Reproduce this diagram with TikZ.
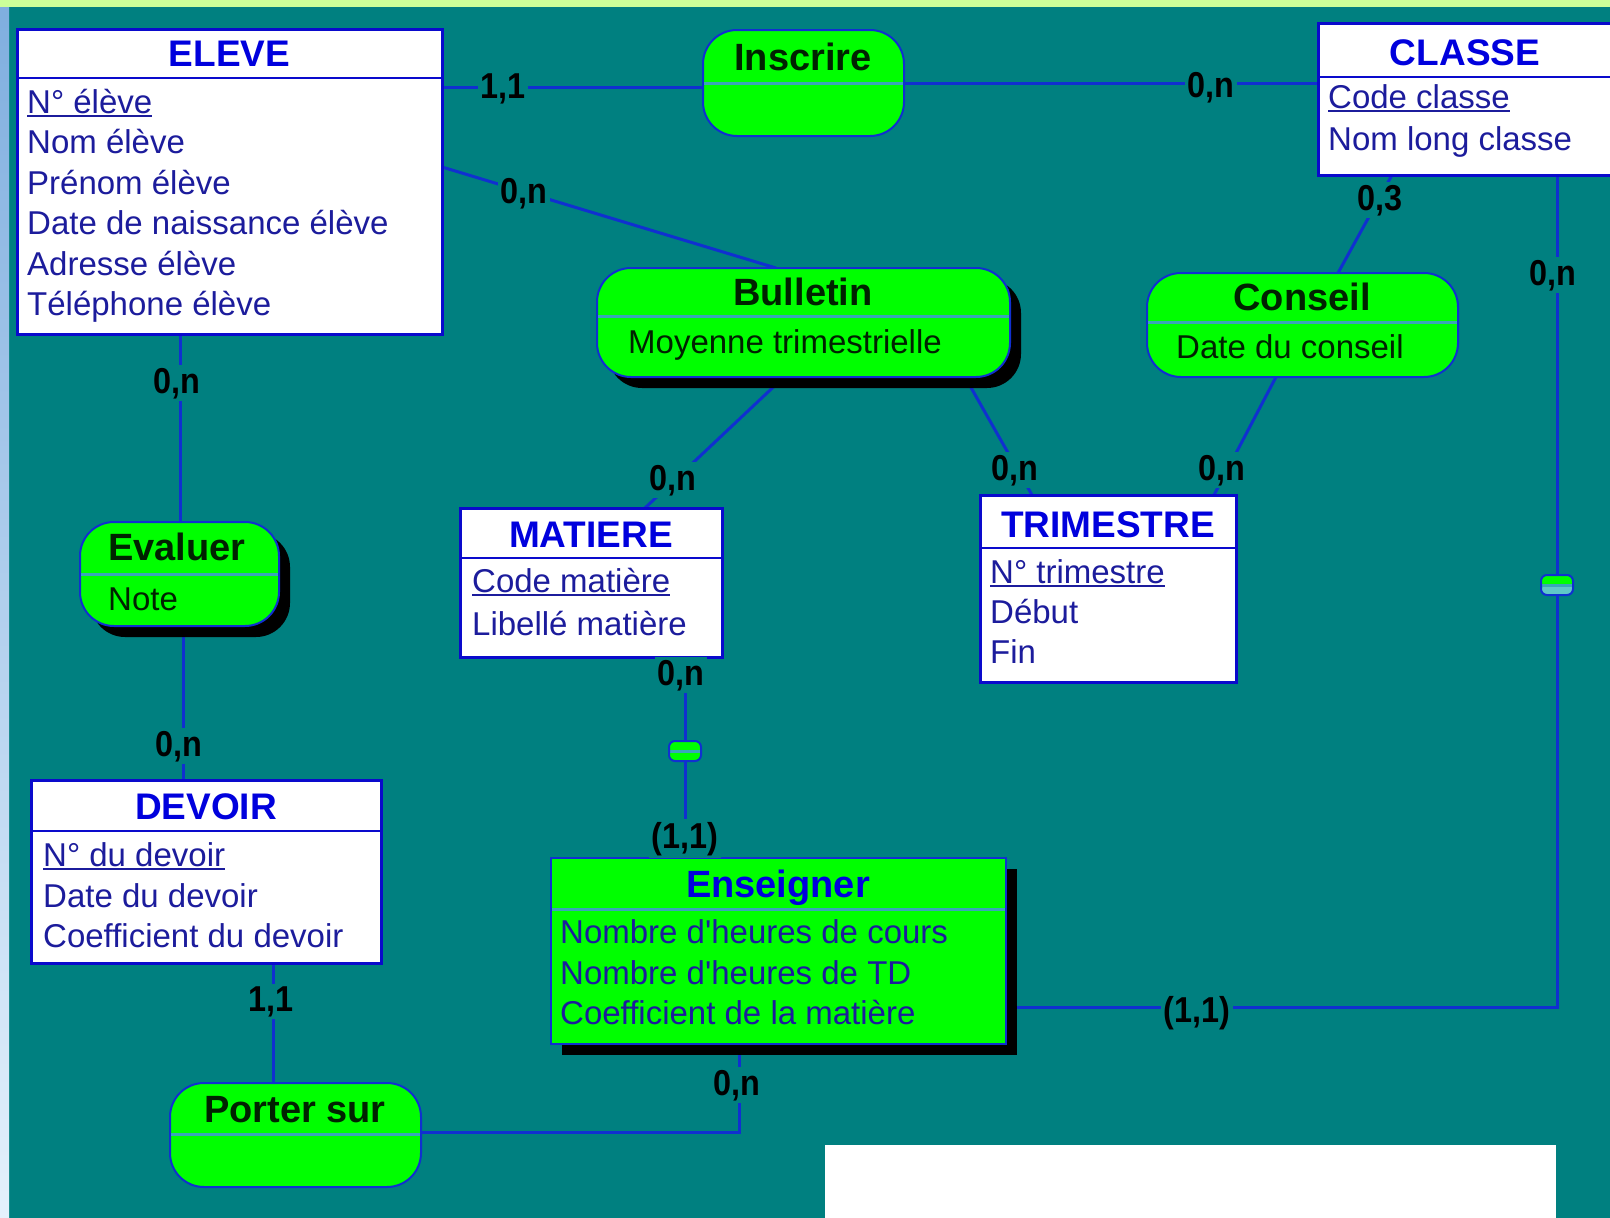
\documentclass[tikz,border=0pt]{standalone}
\usepackage{fontspec}
\setmainfont{Liberation Sans}
\newfontfamily\cardfont[FakeStretch=0.9]{Liberation Sans Bold}
\usetikzlibrary{calc,shadows}

\pgfdeclarelayer{back}
\pgfsetlayers{back,main}

\definecolor{bgteal}{HTML}{008080}
\definecolor{topband}{HTML}{CCFF99}
\definecolor{sidetop}{HTML}{7FAEDF}
\definecolor{sidebot}{HTML}{E4F1FC}
\definecolor{boxblue}{HTML}{0A0ACC}
\definecolor{titleblue}{HTML}{0000DD}
\definecolor{attrblue}{HTML}{1C1C9C}
\definecolor{linkblue}{HTML}{1030D0}
\definecolor{assocgreen}{HTML}{00FF00}
\definecolor{assocink}{HTML}{002200}
\definecolor{sepcyan}{HTML}{3AA6B8}
\definecolor{lowteal}{HTML}{5FC8C8}

% underlined identifier
\newsavebox\keybox
\newcommand\keyul[1]{\sbox\keybox{#1}\rlap{\rule[-4pt]{\wd\keybox}{2pt}}\usebox\keybox}

\tikzset{
  entity/.style={draw=boxblue, line width=3pt, fill=white, anchor=north west,
    inner sep=0pt, outer sep=0pt},
  assoc/.style={draw=linkblue, line width=2pt, fill=assocgreen, rounded corners=34pt,
    anchor=north west, inner sep=0pt, outer sep=0pt},
  relbox/.style={draw=linkblue, line width=2pt, fill=assocgreen, anchor=north west,
    inner sep=0pt, outer sep=0pt},
  castshadow/.style={drop shadow={shadow xshift=11pt, shadow yshift=-11pt,
    fill=black, opacity=1}},
  entsep/.style={draw=boxblue, line width=2.5pt},
  assep/.style={draw=sepcyan, line width=3pt},
  link/.style={draw=linkblue, line width=3pt},
  enttitle/.style={anchor=base, font=\fontsize{37}{40}\selectfont\bfseries,
    text=titleblue, inner sep=0pt},
  astitle/.style={anchor=base, font=\fontsize{38}{40}\selectfont\bfseries,
    text=assocink, inner sep=0pt},
  entattr/.style={anchor=base west, font=\fontsize{33}{36}\selectfont,
    text=attrblue, inner sep=0pt},
  asattr/.style={anchor=base west, font=\fontsize{33}{36}\selectfont,
    text=assocink, inner sep=0pt},
  card/.style={anchor=base, font=\cardfont\fontsize{36}{38}\selectfont,
    text=black, fill=bgteal, inner sep=2.5pt},
  linkmark/.style={draw=linkblue, line width=2pt, fill=assocgreen, rounded corners=6pt,
    minimum width=32pt, minimum height=20pt, inner sep=0pt,
    path picture={\draw[sepcyan, line width=3pt]
      (path picture bounding box.west) -- (path picture bounding box.east);}},
  lowerhalf/.style={path picture={
      \fill[lowteal] (path picture bounding box.west) rectangle (path picture bounding box.south east);
      \draw[sepcyan, line width=3pt]
      (path picture bounding box.west) -- (path picture bounding box.east);}},
}

\begin{document}
\begin{tikzpicture}[x=1pt,y=-1pt]
\useasboundingbox (0,0) rectangle (1610,1218);
\clip (0,0) rectangle (1610,1218);

% ---------- backdrop ----------
\begin{pgfonlayer}{back}
  \fill[bgteal] (0,0) rectangle (1610,1218);
  \shade[top color=sidetop, bottom color=sidebot] (0,0) rectangle (9,1218);
  \fill[topband] (0,0) rectangle (1610,7);
  \fill[white] (825,1145) rectangle (1556,1218);
\end{pgfonlayer}

% ---------- entities ----------
\node[entity, minimum width=425pt, minimum height=305pt] (eleve) at (17,29) {};
\node[entity, minimum width=294pt, minimum height=152pt] (classe) at (1318,23) {};
\node[entity, minimum width=262pt, minimum height=149pt] (matiere) at (460,508) {};
\node[entity, minimum width=256pt, minimum height=187pt] (trimestre) at (980,495) {};
\node[entity, minimum width=350pt, minimum height=183pt] (devoir) at (31,780) {};

% ---------- associations ----------
\node[assoc, minimum width=201pt, minimum height=106pt] (inscrire) at (703,30) {};
\node[assoc, castshadow, minimum width=413pt, minimum height=109pt] (bulletin) at (597,268) {};
\node[assoc, minimum width=311pt, minimum height=104pt] (conseil) at (1147,273) {};
\node[assoc, castshadow, minimum width=199pt, minimum height=104pt] (evaluer) at (80,522) {};
\node[assoc, minimum width=251pt, minimum height=104pt] (porter) at (170,1083) {};
\node[relbox, castshadow, minimum width=455pt, minimum height=186pt] (enseigner) at (551,858) {};

% ---------- header separators ----------
\draw[entsep] ($(eleve.north west)+(0,49)$) -- ($(eleve.north east)+(0,49)$);
\draw[entsep] ($(classe.north west)+(0,54)$) -- ($(classe.north east)+(0,54)$);
\draw[entsep] ($(matiere.north west)+(0,50)$) -- ($(matiere.north east)+(0,50)$);
\draw[entsep] ($(trimestre.north west)+(0,53)$) -- ($(trimestre.north east)+(0,53)$);
\draw[entsep] ($(devoir.north west)+(0,51)$) -- ($(devoir.north east)+(0,51)$);
\draw[assep] ($(inscrire.north west)+(1,53)$) -- ($(inscrire.north east)+(-1,53)$);
\draw[assep] ($(bulletin.north west)+(1,48)$) -- ($(bulletin.north east)+(-1,48)$);
\draw[assep] ($(conseil.north west)+(1,49)$) -- ($(conseil.north east)+(-1,49)$);
\draw[assep] ($(evaluer.north west)+(1,52)$) -- ($(evaluer.north east)+(-1,52)$);
\draw[assep] ($(porter.north west)+(1,51)$) -- ($(porter.north east)+(-1,51)$);
\draw[assep] ($(enseigner.north west)+(1,51)$) -- ($(enseigner.north east)+(-1,51)$);

% ---------- texts ----------
\node[enttitle] (t-eleve) at (229.5,66) {ELEVE};
\node[entattr] (a-eleve1) at (27,113) {\keyul{N° élève}};
\node[entattr] (a-eleve2) at (27,153) {Nom élève};
\node[entattr] (a-eleve3) at (27,194) {Prénom élève};
\node[entattr] (a-eleve4) at (27,234) {Date de naissance élève};
\node[entattr] (a-eleve5) at (27,275) {Adresse élève};
\node[entattr] (a-eleve6) at (27,315) {Téléphone élève};

\node[enttitle] (t-classe) at (1465,65) {CLASSE};
\node[entattr] (a-classe1) at (1328,108) {\keyul{Code classe}};
\node[entattr] (a-classe2) at (1328,150) {Nom long classe};

\node[enttitle] (t-matiere) at (591,547) {MATIERE};
\node[entattr] (a-matiere1) at (472,592) {\keyul{Code matière}};
\node[entattr] (a-matiere2) at (472,635) {Libellé matière};

\node[enttitle] (t-trimestre) at (1108,537) {TRIMESTRE};
\node[entattr] (a-trim1) at (990,583) {\keyul{N° trimestre}};
\node[entattr] (a-trim2) at (990,623) {Début};
\node[entattr] (a-trim3) at (990,663) {Fin};

\node[enttitle] (t-devoir) at (206,819) {DEVOIR};
\node[entattr] (a-devoir1) at (43,866) {\keyul{N° du devoir}};
\node[entattr] (a-devoir2) at (43,907) {Date du devoir};
\node[entattr] (a-devoir3) at (43,947) {Coefficient du devoir};

\node[astitle] (t-inscrire) at (803,70) {Inscrire};
\node[astitle] (t-bulletin) at (803,305) {Bulletin};
\node[asattr] (a-bulletin) at (628,353) {Moyenne trimestrielle};
\node[astitle] (t-conseil) at (1302,310) {Conseil};
\node[asattr] (a-conseil) at (1176,358) {Date du conseil};
\node[astitle] (t-evaluer) at (177,560) {Evaluer};
\node[asattr] (a-evaluer) at (108,610) {Note};
\node[astitle] (t-porter) at (295,1122) {Porter sur};

\node[astitle, text=titleblue] (t-enseigner) at (778,897) {Enseigner};
\node[entattr] (a-ens1) at (560,943) {Nombre d\textquotesingle heures de cours};
\node[entattr] (a-ens2) at (560,984) {Nombre d\textquotesingle heures de TD};
\node[entattr] (a-ens3) at (560,1024) {Coefficient de la matière};

% ---------- functional-dependency marks and bends ----------
\node[linkmark] (mk1) at (685,751) {};
\node[linkmark, lowerhalf] (mk2) at (1557,585) {};
\coordinate (bend1) at (1557,1007);
\coordinate (bend2) at (739,1132);

% ---------- connectors ----------
\begin{pgfonlayer}{back}
  \draw[link] ($(eleve.north east)+(0,58)$) -- ($(inscrire.north west)+(0,57)$);
  \draw[link] ($(inscrire.north east)+(0,53)$) -- ($(classe.north west)+(0,60)$);
  \draw[link] ($(eleve.north east)+(0,138)$) -- ($(bulletin.north west)+(179,0)$);
  \draw[link] ($(classe.south west)+(74,0)$) -- ($(conseil.north west)+(191,0)$);
  \draw[link] ($(classe.south west)+(239,0)$) -- (mk2.center) -- (bend1)
              -- ($(enseigner.south east)+(0,-37)$);
  \draw[link] ($(bulletin.south west)+(187,0)$) -- ($(matiere.north west)+(185,0)$);
  \draw[link] ($(bulletin.south west)+(368,0)$) -- ($(trimestre.north west)+(52,0)$);
  \draw[link] ($(conseil.south west)+(129,0)$) -- ($(trimestre.north west)+(234,0)$);
  \draw[link] ($(eleve.south west)+(163,0)$) -- ($(evaluer.north west)+(100,0)$);
  \draw[link] ($(evaluer.south west)+(103,0)$) -- ($(devoir.north west)+(152,0)$);
  \draw[link] ($(devoir.south west)+(242,0)$) -- ($(porter.north west)+(103,0)$);
  \draw[link] ($(porter.north east)+(0,49)$) -- (bend2) -- ($(enseigner.south west)+(188,0)$);
  \draw[link] ($(matiere.south west)+(225,0)$) -- (mk1.center)
              -- ($(enseigner.north west)+(134,0)$);
\end{pgfonlayer}

% ---------- cardinalities ----------
\node[card] (c1) at (503,98) {1,1};
\node[card] (c2) at (1211,97) {0,n};
\node[card] (c3) at (524,203) {0,n};
\node[card] (c4) at (1380,210) {0,3};
\node[card] (c5) at (1553,285) {0,n};
\node[card] (c6) at (177,393) {0,n};
\node[card] (c7) at (673,490) {0,n};
\node[card] (c8) at (1015,480) {0,n};
\node[card] (c9) at (1222,480) {0,n};
\node[card] (c10) at (681,685) {0,n};
\node[card] (c11) at (685,848) {(1,1)};
\node[card] (c12) at (179,756) {0,n};
\node[card] (c13) at (271,1011) {1,1};
\node[card] (c14) at (737,1095) {0,n};
\node[card] (c15) at (1197,1022) {(1,1)};
\end{tikzpicture}
\end{document}
